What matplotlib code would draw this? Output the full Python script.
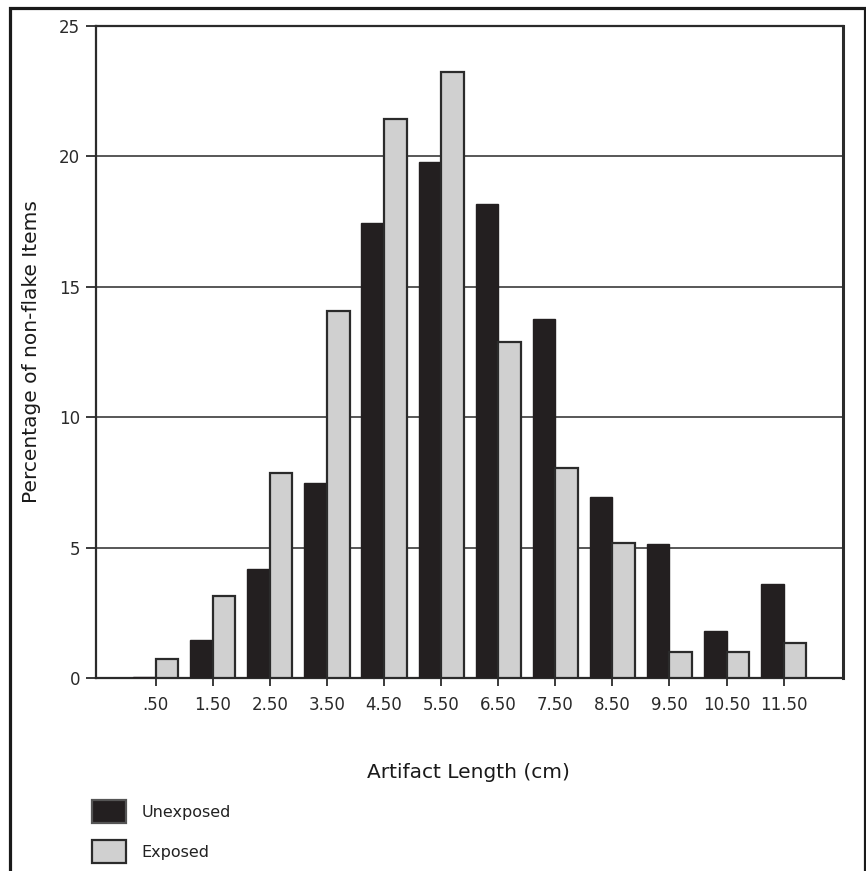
import matplotlib
matplotlib.use("Agg")
import matplotlib.pyplot as plt
from matplotlib.patches import Rectangle
import numpy as np

# Length classes (bin midpoints, cm) and percentages of non-flake items
length_labels = [".50", "1.50", "2.50", "3.50", "4.50", "5.50",
                 "6.50", "7.50", "8.50", "9.50", "10.50", "11.50"]
unexposed = [0.05, 1.47, 4.18, 7.49, 17.43, 19.80, 18.18, 13.77, 6.93, 5.14, 1.80, 3.62]
exposed = [0.72, 3.16, 7.85, 14.07, 21.42, 23.24, 12.90, 8.04, 5.19, 0.98, 0.98, 1.33]
y_ticks = [0, 5, 10, 15, 20, 25]

dark = "#231f20"
light = "#d0d0d0"
edge = "#2b2b2b"

plt.rcParams["font.family"] = ["DejaVu Sans"]

fig = plt.figure(figsize=(8.66, 8.71), dpi=100)
fig.patch.set_facecolor("white")

ax = fig.add_axes([96 / 866, 193 / 871, 747 / 866, 652 / 871])

x = np.arange(len(length_labels))
w = 0.395

ax.set_axisbelow(True)
ax.yaxis.grid(True, color="#4a4a4a", linewidth=1.3)
ax.xaxis.grid(False)

b1 = ax.bar(x, unexposed, width=-w, align="edge", color=dark,
            edgecolor=dark, linewidth=1.0, label="Unexposed", zorder=3)
b2 = ax.bar(x, exposed, width=w, align="edge", color=light,
            edgecolor=edge, linewidth=1.6, label="Exposed", zorder=3)

ax.set_xlim(-1.046, 12.04)
ax.set_ylim(0, 25)
ax.set_yticks(y_ticks)
ax.set_yticklabels([str(v) for v in y_ticks])
ax.set_xticks(x)
ax.set_xticklabels(length_labels)

for s in ax.spines.values():
    s.set_color("#2b2b2b")
    s.set_linewidth(1.6)
ax.spines["right"].set_linewidth(2.2)

ax.tick_params(axis="y", direction="out", length=7.5, width=1.3,
               color="#2b2b2b", pad=4, labelsize=12, labelcolor="#2a2a2a")
ax.tick_params(axis="x", direction="out", length=6, width=1.3,
               color="#2b2b2b", pad=7, labelsize=12, labelcolor="#2a2a2a")

ax.set_xlabel("Artifact Length (cm)", fontsize=14.5, color="#1a1a1a")
ax.xaxis.label.set_va("center")
ax.xaxis.set_label_coords(0.498, -0.1457)

ax.set_ylabel("Percentage of non-flake Items", fontsize=14.5, color="#1a1a1a")
ax.yaxis.label.set_va("center")
ax.yaxis.set_label_coords(-0.0857, 0.5)

leg = ax.legend(handles=[b1, b2], loc="upper left",
                bbox_to_anchor=(92 / 866, 1 - 800 / 871),
                bbox_transform=fig.transFigure,
                frameon=False, fontsize=11.5, handlelength=2.1,
                handleheight=1.85, handletextpad=1.0, labelspacing=1.07,
                borderaxespad=0, borderpad=0)
for h in leg.legend_handles:
    h.set_edgecolor("#555555")
    h.set_linewidth(1.6)
leg.legend_handles[1].set_edgecolor(edge)
for t in leg.get_texts():
    t.set_color("#222222")

# Outer frame around the figure
fig.add_artist(Rectangle((10 / 866, -0.05), 855 / 866, 0.05 + (871 - 8) / 871,
                         transform=fig.transFigure, fill=False,
                         edgecolor="#1a1a1a", linewidth=2.3))

fig.savefig("out.png", dpi=100, facecolor="white")
